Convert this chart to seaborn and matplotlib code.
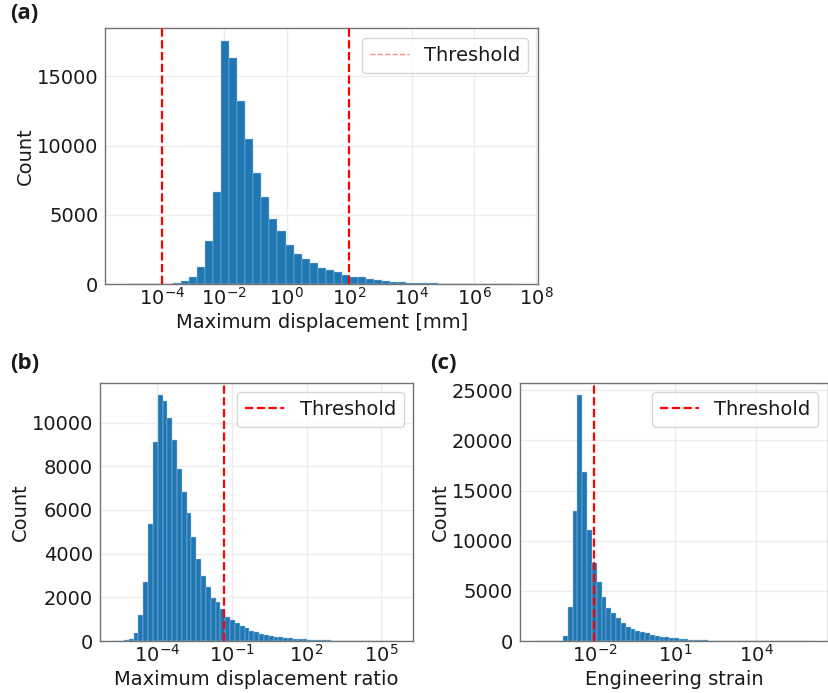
import numpy as np
import matplotlib
matplotlib.use("Agg")
import matplotlib.pyplot as plt
from matplotlib.lines import Line2D
from matplotlib.ticker import NullLocator
import seaborn as sns

# (a) maximum displacement [mm] -- log10 bin range + counts per bin
disp_range = (-5.18, 7.42)
disp_counts = [1, 0, 2, 3, 6,
               20, 70, 190, 500, 1230, 3125, 6635, 17575, 16300, 13220,
               10480, 8050, 6320, 4710, 3850, 2810, 2160, 1830, 1490, 1200,
               985, 865, 675, 505, 480, 360, 265, 190, 145, 120,
               96, 72, 60, 50, 40, 30,
               18, 12, 8, 5, 3, 2, 1, 1]
disp_thresholds = [1e-4, 1e2]
disp_ticks = [1e-4, 1e-2, 1e0, 1e2, 1e4, 1e6, 1e8]

# (b) maximum displacement ratio
ratio_range = (-5.71, 5.71)
ratio_counts = [3, 10, 45,
                77, 383, 1194, 2695, 5359, 9125, 11268, 10993, 10196, 9186,
                7885, 6828, 5864, 4762, 3766, 2955, 2465, 1960, 1807, 1470,
                1087, 965, 811, 689, 582, 475, 398, 306, 276, 230,
                199, 168, 138, 122, 92, 77, 77, 61, 46, 46, 31,
                25, 20, 16, 12, 10, 8, 6, 5, 4, 3, 2, 2, 1, 1, 1]
ratio_threshold = 0.047
ratio_ticks = [1e-4, 1e-1, 1e2, 1e5]

# (c) engineering strain
strain_range = (-4.237, 6.145)
strain_counts = [1, 0, 1, 2, 4, 12,
                 532, 3427, 13008, 24553, 16835, 11112, 7818, 5922, 4358, 3260,
                 2761, 2329, 1763, 1431, 1164, 998, 865, 765, 632, 532,
                 432, 366, 299, 266, 200, 166, 133, 100, 100, 67, 33,
                 25, 20, 16, 12, 9, 7, 5, 4, 3, 3, 2, 2, 1, 1, 1, 1, 0, 0, 1, 0, 1]
strain_threshold = 1e-2
strain_ticks = [1e-2, 1e1, 1e4]

sns.set_theme(style="whitegrid")
plt.rcParams.update({
    "font.family": ["DejaVu Sans"],
    "font.size": 14,
    "axes.labelsize": 14,
    "xtick.labelsize": 14,
    "ytick.labelsize": 14,
    "legend.fontsize": 14,
    "text.color": "0.1",
    "axes.labelcolor": "0.1",
    "xtick.color": "0.1",
    "ytick.color": "0.1",
    "axes.edgecolor": "0.45",
    "axes.linewidth": 1.0,
    "grid.color": "0.93",
    "xtick.major.size": 0,
    "ytick.major.size": 0,
    "ytick.major.pad": 5,
    "xtick.major.pad": 2,
    "axes.labelpad": 3,
})


def log_hist(ax, rng, counts, xlabel, ticks):
    n = len(counts)
    lo, hi = rng
    w = (hi - lo) / n
    centers = 10 ** (lo + w * (np.arange(n) + 0.5))
    sns.histplot(x=centers, weights=counts, bins=n, binrange=rng, log_scale=True,
                 ax=ax, color="#1f77b4", alpha=1, edgecolor="#a9c8e0", linewidth=0.3)
    ax.set_xticks(ticks)
    ax.xaxis.set_minor_locator(NullLocator())
    ax.set_xlabel(xlabel)
    ax.set_ylabel("Count", labelpad=1.5)


fig = plt.figure(figsize=(8.29, 6.93), dpi=100)
ax_a = fig.add_axes([0.127, 0.590, 0.522, 0.369])
ax_b = fig.add_axes([0.1206, 0.075, 0.378, 0.373])
ax_c = fig.add_axes([0.6273, 0.075, 0.3715, 0.373])

#(a)
log_hist(ax_a, disp_range, disp_counts, "Maximum displacement [mm]", disp_ticks)
for t in disp_thresholds:
    ax_a.axvline(t, color="red", linestyle="--", linewidth=1.6, zorder=5)
faint = Line2D([], [], color="red", alpha=0.45, linestyle="--", linewidth=1.0)
ax_a.legend([faint], ["Threshold"], loc="upper right")

#(b)
log_hist(ax_b, ratio_range, ratio_counts, "Maximum displacement ratio", ratio_ticks)
ax_b.axvline(ratio_threshold, color="red", linestyle="--", linewidth=1.6, zorder=5, label="Threshold")
ax_b.legend(loc="upper right")

#(c)
log_hist(ax_c, strain_range, strain_counts, "Engineering strain", strain_ticks)
ax_c.axvline(strain_threshold, color="red", linestyle="--", linewidth=1.6, zorder=5, label="Threshold")
ax_c.legend(loc="upper right")

for lbl, x, y in [("(a)", 0.012, 0.995), ("(b)", 0.012, 0.49), ("(c)", 0.519, 0.49)]:
    fig.text(x, y, lbl, fontsize=16, fontweight="bold", family=["Open Sans", "DejaVu Sans"],
             ha="left", va="top")

fig.savefig("out.png", dpi=100)
